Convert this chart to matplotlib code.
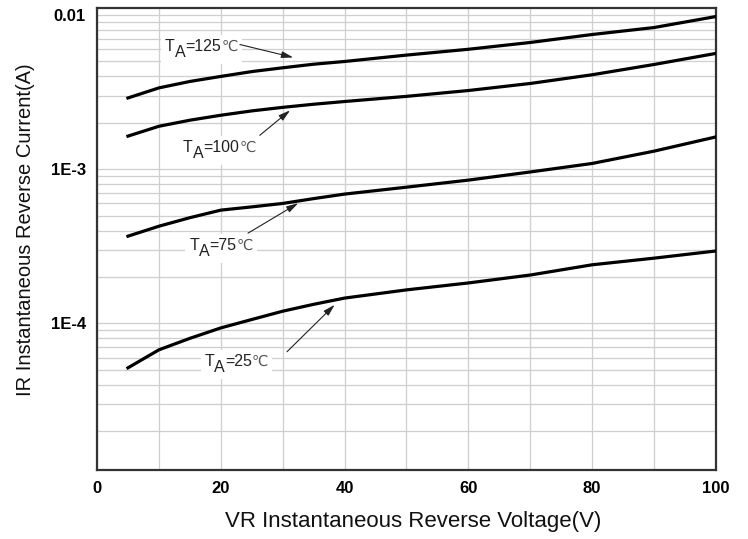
import numpy as np
import matplotlib
matplotlib.use("Agg")
import matplotlib.pyplot as plt
from matplotlib.ticker import LogLocator, FixedLocator, NullFormatter
from matplotlib.patches import Rectangle
from matplotlib.transforms import Bbox

plt.rcParams['font.family'] = ['Liberation Sans', 'DejaVu Sans']

# reverse voltage (V)
vr = [5, 10, 15, 20, 25, 30, 35, 40, 50, 60, 70, 80, 90, 100]

# reverse current (A) per junction temperature
ir_125 = [2.9e-3, 3.37e-3, 3.71e-3, 4.0e-3, 4.3e-3, 4.55e-3, 4.8e-3, 5.0e-3, 5.5e-3, 6.0e-3, 6.64e-3, 7.48e-3, 8.3e-3, 9.78e-3]
ir_100 = [1.64e-3, 1.9e-3, 2.08e-3, 2.24e-3, 2.39e-3, 2.52e-3, 2.64e-3, 2.75e-3, 2.97e-3, 3.24e-3, 3.6e-3, 4.1e-3, 4.78e-3, 5.64e-3]
ir_75 = [3.68e-4, 4.27e-4, 4.85e-4, 5.43e-4, 5.7e-4, 6.0e-4, 6.45e-4, 6.9e-4, 7.65e-4, 8.5e-4, 9.6e-4, 1.09e-3, 1.31e-3, 1.62e-3]
ir_25 = [5.15e-5, 6.74e-5, 8.0e-5, 9.35e-5, 1.06e-4, 1.2e-4, 1.33e-4, 1.46e-4, 1.65e-4, 1.83e-4, 2.06e-4, 2.4e-4, 2.65e-4, 2.95e-4]

# label: temperature, text start, arrow tail, arrow tip
labels = [
    ("125", (11.0, 5.83e-3), (23.1, 6.44e-3), (31.7, 5.31e-3)),
    ("100", (13.9, 1.294e-3), (26.3, 1.66e-3), (31.2, 2.41e-3)),
    ("75", (14.9, 2.99e-4), (24.4, 3.85e-4), (32.5, 6.02e-4)),
    ("25", (17.4, 5.31e-5), (30.7, 6.55e-5), (38.4, 1.32e-4)),
]

fig = plt.figure(figsize=(7.48, 5.39), dpi=100)
ax = fig.add_axes([0.1297, 0.128, 0.957 - 0.1297, 0.985 - 0.128])

for ir in [ir_125, ir_100, ir_75, ir_25]:
    ax.plot(vr, ir, color='black', lw=2.3, solid_joinstyle='round', zorder=3)

ax.set_yscale('log')
ax.set_xlim(0, 100)
ax.set_ylim(1.12e-5, 1.11e-2)

ax.xaxis.set_major_locator(FixedLocator([0, 20, 40, 60, 80, 100]))
ax.xaxis.set_minor_locator(FixedLocator([10, 30, 50, 70, 90]))
ax.yaxis.set_major_locator(FixedLocator([1e-4, 1e-3, 1e-2]))
ax.yaxis.set_minor_locator(LogLocator(base=10, subs=np.arange(2, 10), numticks=20))
ax.yaxis.set_minor_formatter(NullFormatter())
ax.set_yticklabels(['1E-4', '1E-3', '0.01'])
ax.set_xticklabels(['0', '20', '40', '60', '80', '100'])

ax.grid(True, which='both', color='#cfcfcf', lw=0.9, zorder=0)
ax.set_axisbelow(True)
ax.tick_params(which='both', length=0)
ax.tick_params(axis='both', labelsize=12, pad=8)
for lab in ax.get_xticklabels() + ax.get_yticklabels():
    lab.set_fontweight('bold')

for sp in ax.spines.values():
    sp.set_color('#333333')
    sp.set_linewidth(1.6)

fig.text(413 / 748, 1 - 521 / 539, 'VR Instantaneous Reverse Voltage(V)', fontsize=16,
         ha='center', va='center', color='#111111')
fig.text(26 / 748, 1 - 230 / 539, 'IR Instantaneous Reverse Current(A)', fontsize=14.5,
         ha='center', va='center', rotation=90, color='#111111')

txt_color = '#222222'
label_parts = []
for temp, start, tail, tip in labels:
    t1 = ax.text(start[0], start[1], 'T', fontsize=11.5, color=txt_color,
                 ha='left', va='baseline', zorder=4)
    t2 = ax.annotate('A', xy=(1, 0), xycoords=t1, xytext=(0, -4.5),
                     textcoords='offset points', fontsize=11.5, color=txt_color,
                     ha='left', va='bottom', zorder=4)
    t3 = ax.annotate('=' + temp, xy=(1, 0), xycoords=(t2, t1), fontsize=11.5,
                     color=txt_color, ha='left', va='bottom', zorder=4)
    t4 = ax.annotate('℃', xy=(1, 0), xycoords=t3, fontsize=10.5, color='#555555',
                     family='DejaVu Sans', ha='left', va='bottom', zorder=4)
    label_parts.append([t1, t2, t3, t4])
    ax.annotate('', xy=tip, xytext=tail,
                arrowprops=dict(arrowstyle='-|>,head_length=0.7,head_width=0.2',
                                color='#222222', lw=0.8, shrinkA=0, shrinkB=0),
                zorder=4)

# white patch behind each label so the grid is broken there
fig.canvas.draw()
renderer = fig.canvas.get_renderer()
for parts in label_parts:
    bb = Bbox.union([p.get_window_extent(renderer) for p in parts])
    bb = bb.expanded(1.0, 1.0).padded(4)
    (x0, y0), (x1, y1) = ax.transData.inverted().transform([[bb.x0, bb.y0], [bb.x1, bb.y1]])
    ax.add_patch(Rectangle((x0, y0), x1 - x0, y1 - y0, fc='white', ec='none', zorder=2.5))

fig.savefig('out.png', dpi=100)
